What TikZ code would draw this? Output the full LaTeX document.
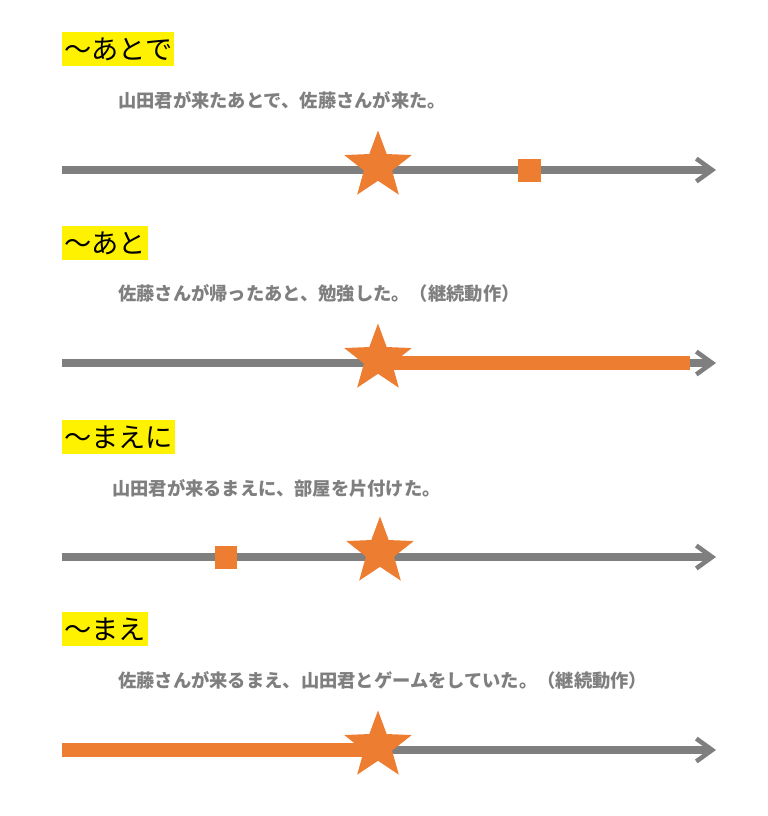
\documentclass[tikz,border=0pt]{standalone}
\usepackage{fontspec}
\newfontfamily\cjk{Noto Sans CJK JP}
\usetikzlibrary{arrows.meta}
\usetikzlibrary{shapes.geometric}
\usetikzlibrary{positioning}
\definecolor{lineGray}{HTML}{7F7F7F}
\definecolor{markOrange}{HTML}{ED7D31}
\tikzset{title/.style={fill=yellow,inner xsep=1pt,inner ysep=3pt,anchor=north west,font=\cjk\fontsize{15.5pt}{17pt}\selectfont}}
\tikzset{sentence/.style={anchor=west,inner sep=0pt,text=lineGray,font=\cjk\bfseries\fontsize{10.4pt}{12pt}\selectfont}}
\tikzset{axis/.style={draw=lineGray,line width=4.5pt,-{Straight Barb[length=9pt,width=13pt,line width=2.6pt]}}}
\tikzset{span/.style={draw=markOrange,line width=8pt}}
\tikzset{event/.style={star,star points=5,star point ratio=2.4,fill=markOrange,minimum size=1.42cm,inner sep=0pt}}
\tikzset{point/.style={rectangle,fill=markOrange,minimum size=0.46cm,inner sep=0pt}}
\begin{document}
\begin{tikzpicture}[x=0.02cm,y=-0.02cm]
\useasboundingbox (0,0) rectangle (768,816);
% after
\node[title] (t1) at (62,32) {～あとで};
\node[sentence] (s1) at (118,100) {山田君が来たあとで、佐藤さんが来た。};
\coordinate (a1) at (62,170);
\coordinate (b1) at (716,170);
\draw[axis] (a1) -- (b1);
\node[event] (e1) at (378,166) {};
\node[point] (p1) at (529,170) {};
% after, continuing
\node[title] (t2) at (62,226) {～あと};
\node[sentence] (s2) at (118,293) {佐藤さんが帰ったあと、勉強した。（継続動作）};
\coordinate (a2) at (62,363);
\coordinate (b2) at (716,363);
\coordinate (c2) at (690,363);
\draw[axis] (a2) -- (b2);
\draw[span] (378,363) -- (c2);
\node[event] (e2) at (378,359) {};
% before
\node[title] (t3) at (62,420) {～まえに};
\node[sentence] (s3) at (112,488) {山田君が来るまえに、部屋を片付けた。};
\coordinate (a3) at (62,557);
\coordinate (b3) at (716,557);
\draw[axis] (a3) -- (b3);
\node[point] (p3) at (226,557) {};
\node[event] (e3) at (380,552) {};
% before, continuing
\node[title] (t4) at (62,612) {～まえ};
\node[sentence] (s4) at (118,680) {佐藤さんが来るまえ、山田君とゲームをしていた。（継続動作）};
\coordinate (a4) at (62,750);
\coordinate (b4) at (716,750);
\draw[axis] (a4) -- (b4);
\draw[span] (a4) -- (378,750);
\node[event] (e4) at (378,746) {};
\end{tikzpicture}
\end{document}
